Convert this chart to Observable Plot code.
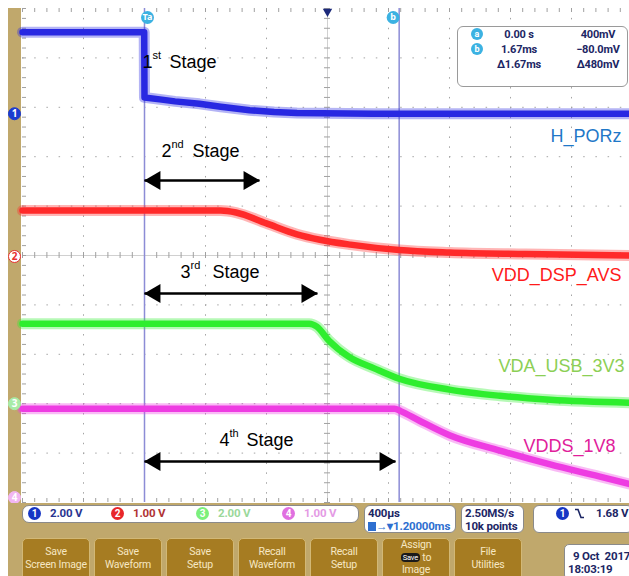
<!DOCTYPE html>
<html>
<head>
<meta charset="utf-8">
<script src="https://cdn.jsdelivr.net/npm/d3@7"></script>
<script src="https://cdn.jsdelivr.net/npm/@observablehq/plot@0.6"></script>
<style>
html,body{margin:0;padding:0;background:#fff;}
#scope{position:relative;width:629px;height:576px;overflow:hidden;background:#fff;font-family:Roboto,"Liberation Sans",sans-serif;}
#tan{position:absolute;left:8px;top:8px;right:0;bottom:0;background:#c0a86c;}
#screen{position:absolute;left:21px;top:8px;width:608px;height:495px;background:#fff;}
#scope svg{position:absolute;left:0;top:0;}
.box{position:absolute;background:#fff;border:1px solid #8a8a8a;border-radius:6px;box-sizing:border-box;}
.t{position:absolute;white-space:nowrap;font-weight:bold;font-size:11.5px;line-height:13px;letter-spacing:-0.2px;}
.circ{position:absolute;width:13px;height:13px;border-radius:50%;color:#fff;font-weight:bold;font-size:10px;line-height:13px;text-align:center;}
.btn{position:absolute;top:538px;width:68px;height:44px;background:#a67c22;border:1px solid #d2b876;border-radius:5px;box-sizing:border-box;color:#f6e7c2;font-size:10.5px;line-height:13px;text-align:center;padding-top:6px;white-space:nowrap;letter-spacing:-0.2px;}
.pill{display:inline-block;background:#1a1a1a;color:#fff;border-radius:4px;font-size:7.5px;line-height:9px;padding:0 2px;vertical-align:middle;}
</style>
</head>
<body>
<div id="scope">
  <div id="tan"></div>
  <div id="screen"></div>
</div>
<script>
// ---------- data ----------
const channels = ["H_PORz", "VDD_DSP_AVS", "VDA_USB_3V3", "VDDS_1V8"];
const voltsPerDiv = [2, 1, 2, 1];
const groundDiv = [2.87, -0.02, -3.0, -4.9];
const traceColors = ["#2828e2", "#ff2a2a", "#2eee2e", "#ee3ce2"];
const labelColors = ["#1f78c8", "#ff1a1a", "#8ccf55", "#e0209a"];

// time in ms, voltage in V
const hporzT = [-0.8, -0.002, 0, 0.1, 0.2, 0.36, 0.5, 0.69, 0.85, 1.0, 1.5, 3.2];
const hporzV = [3.3, 3.3, 0.66, 0.58, 0.5, 0.4, 0.28, 0.14, 0.07, 0.03, 0.0, 0.0];
const dspT = [-0.8, 0.5, 0.6, 0.8, 1.0, 1.15, 1.35, 1.67, 2.0, 2.5, 3.2];
const dspV = [0.93, 0.93, 0.89, 0.67, 0.45, 0.34, 0.24, 0.13, 0.08, 0.05, 0.02];
const usbT = [-0.8, 1.08, 1.13, 1.21, 1.34, 1.51, 1.67, 2.0, 2.33, 2.66, 3.2];
const usbV = [3.24, 3.24, 3.12, 2.55, 1.9, 1.42, 1.01, 0.57, 0.32, 0.16, 0.04];
const vddsT = [-0.8, 1.64, 1.68, 1.8, 2.0, 2.33, 2.66, 2.98, 3.2];
const vddsV = [1.8, 1.8, 1.75, 1.56, 1.26, 0.95, 0.67, 0.43, 0.26];

const timeGrid = [-0.8, -0.4, 0, 0.4, 0.8, 1.2, 1.6, 2.0, 2.4, 2.8, 3.2];
const divGrid = [-5, -4, -3, -2, -1, 0, 1, 2, 3, 4, 5];
const timeCenter = 1.2;

const cursorT = [0, 1.67];
const cursorNames = ["a", "b"];
const cursorMv = [400, -80];

const stageNums = ["1", "2", "3", "4"];
const stageSuffix = ["st", "nd", "rd", "th"];
const stageArrowStart = [0, 0, 0];
const stageArrowEnd = [0.754, 1.134, 1.646];

// ---------- layout ----------
const msPerPx = 0.4 / 61;
const divPerPx = 1 / 49.4;
const stageLabelT = [-0.013, 0.111, 0.236, 0.492];
const stageLabelDiv = [3.903, 2.101, -0.348, -3.749];
const stageWordPx = [27, 31, 32, 27];
const stageArrowDiv = [1.518, -0.769, -4.17];
const chLabelT = [3.128, 3.128, 3.148, 3.089];
const chLabelDiv = [2.405, -0.409, -2.251, -3.87];
const cursorTagPx = [3, -6];

const tracesT = [hporzT, dspT, usbT, vddsT];
const tracesV = [hporzV, dspV, usbV, vddsV];
const rows = tracesT.map((ts, c) => ts.map((t, i) => ({ch: channels[c], t, div: groundDiv[c] + tracesV[c][i] / voltsPerDiv[c]})));

const minorT = d3.range(0, 51).map(i => timeGrid[0] + i * 0.08);
const minorDiv = d3.range(0, 51).map(i => divGrid[0] + i * 0.2);
const grid = "#a4a4a4";

const marks = [];
// dotted grid
marks.push(Plot.ruleX(timeGrid.filter(t => t !== timeCenter && t !== timeGrid[0]), {x: d => d, stroke: grid, strokeDasharray: "1.5,8.38"}));
marks.push(Plot.ruleY(divGrid.filter(d => d !== 0 && Math.abs(d) !== 5), {y: d => d, stroke: grid, strokeDasharray: "1.5,10.7"}));
// center cross + ticks
marks.push(Plot.ruleY([0], {y: d => d, stroke: "#d0d0d0"}));
marks.push(Plot.ruleX([timeCenter], {x: d => d, stroke: "#d0d0d0"}));
marks.push(Plot.ruleX(minorT, {x: d => d, y1: -3 * divPerPx, y2: 3 * divPerPx, stroke: "#a0a0a0"}));
marks.push(Plot.ruleY(minorDiv, {y: d => d, x1: timeCenter - 3 * msPerPx, x2: timeCenter + 3 * msPerPx, stroke: "#a0a0a0"}));
// edge ticks
marks.push(Plot.ruleY(minorDiv, {y: d => d, x1: timeGrid[0], x2: timeGrid[0] + 4 * msPerPx, stroke: "#a0a0a0"}));
marks.push(Plot.ruleX(minorT, {x: d => d, y1: 5, y2: 5 - 4 * divPerPx, stroke: "#a0a0a0"}));
marks.push(Plot.ruleX(minorT, {x: d => d, y1: -5, y2: -5 + 4 * divPerPx, stroke: "#a0a0a0"}));

// cursors
marks.push(Plot.ruleX(cursorT, {x: d => d, stroke: "#8c8cd6", strokeWidth: 1.5}));

// traces (halo + core)
rows.forEach((r, c) => {
  const curve = c === 0 ? "linear" : "monotone-x";
  marks.push(Plot.line(r, {x: "t", y: "div", stroke: traceColors[c], strokeWidth: 11, strokeOpacity: 0.35, curve, strokeLinejoin: "round"}));
  marks.push(Plot.line(r, {x: "t", y: "div", stroke: traceColors[c], strokeWidth: 6.5, curve, strokeLinejoin: "round"}));
});

// cursor top markers
marks.push(Plot.dot(cursorT, {x: (d, i) => d + cursorTagPx[i] * msPerPx, y: 5, dy: 9, r: 6.5, fill: "#3cb2e2"}));
marks.push(Plot.text(cursorT, {x: (d, i) => d + cursorTagPx[i] * msPerPx, y: 5, dy: 9, text: (d, i) => i === 0 ? "Ta" : "b", fill: "#fff", fontSize: 9, fontWeight: "bold"}));
// trigger position marker
marks.push(Plot.dot([timeCenter], {x: d => d, y: 5, dy: 3, symbol: "triangle", rotate: 180, r: 3.5, fill: "#1c2a7a"}));

// channel ground markers
marks.push(Plot.dot(groundDiv, {x: timeGrid[0], y: d => d, dx: -8, r: 6, fill: (d, i) => ["#1a3ad0", "#ffffff", "#a8eca8", "#f2b6f2"][i], stroke: (d, i) => ["#1a3ad0", "#e83030", "#a8eca8", "#f2b6f2"][i], strokeWidth: 1}));
marks.push(Plot.text(groundDiv, {x: timeGrid[0], y: d => d, dx: -8, text: (d, i) => String(i + 1), fill: (d, i) => i === 1 ? "#e83030" : "#fff", fontSize: 10, fontWeight: "bold"}));

// stage arrows
marks.push(Plot.link(stageArrowDiv, {x1: (d, i) => stageArrowStart[i], x2: (d, i) => stageArrowEnd[i], y1: d => d, y2: d => d, stroke: "#000", strokeWidth: 2.5}));
marks.push(Plot.dot(stageArrowDiv, {x: (d, i) => stageArrowEnd[i], y: d => d, dx: -10.5, symbol: "triangle", rotate: 90, r: 7, fill: "#000"}));
marks.push(Plot.dot(stageArrowDiv, {x: (d, i) => stageArrowStart[i], y: d => d, dx: 10.5, symbol: "triangle", rotate: -90, r: 7, fill: "#000"}));

// stage labels
const ff = "Liberation Sans, Arial, sans-serif";
marks.push(Plot.text(stageNums, {x: (d, i) => stageLabelT[i], y: (d, i) => stageLabelDiv[i], text: d => d, textAnchor: "start", fontSize: 18, fontFamily: ff, fill: "#000"}));
marks.push(Plot.text(stageSuffix, {x: (d, i) => stageLabelT[i], y: (d, i) => stageLabelDiv[i], text: d => d, dx: 10, dy: -7, textAnchor: "start", fontSize: 11, fontFamily: ff, fill: "#000"}));
marks.push(Plot.text(stageNums, {x: (d, i) => stageLabelT[i] + stageWordPx[i] * msPerPx, y: (d, i) => stageLabelDiv[i], text: () => "Stage", textAnchor: "start", fontSize: 18, fontFamily: ff, fill: "#000"}));

// channel names
marks.push(Plot.text(channels, {x: (d, i) => chLabelT[i], y: (d, i) => chLabelDiv[i], text: d => d, textAnchor: "end", fontSize: 18, fontFamily: ff, fill: (d, i) => labelColors[i]}));

const svg = Plot.plot({
  width: 629, height: 503,
  marginTop: 8, marginBottom: 1, marginLeft: 22, marginRight: 0,
  x: {domain: [timeGrid[0], timeGrid[timeGrid.length - 1]], range: [22, 632], axis: null},
  y: {domain: [divGrid[0], divGrid[divGrid.length - 1]], range: [502, 8], axis: null},
  style: {background: "transparent", overflow: "hidden"},
  marks
});
const scope = document.getElementById("scope");
scope.appendChild(svg);

// ---------- HTML overlays (scope UI) ----------
function el(cls, style, html, parent) {
  const e = document.createElement("div");
  e.className = cls;
  Object.assign(e.style, style);
  e.innerHTML = html;
  (parent || scope).appendChild(e);
  return e;
}
// cursor readout box
const rb = el("box", {left: "457px", top: "26px", width: "171px", height: "61px", borderColor: "#9a9a9a"}, "");
const navy = "#1c2664";
const fmtMs = t => t === 0 ? "0.00 s" : d3.format(".2f")(t) + "ms";
const fmtMv = v => (v < 0 ? "\u2212" : "") + (Math.abs(v) >= 100 ? d3.format(".0f")(Math.abs(v)) : d3.format(".1f")(Math.abs(v))) + "mV";
cursorT.forEach((t, i) => {
  el("circ", {left: "13px", top: (i * 15 + 1) + "px", width: "12px", height: "12px", lineHeight: "12px", background: "#3cb2e2", fontSize: "9px"}, cursorNames[i], rb);
  el("t", {left: "30px", width: "62px", textAlign: "center", top: (i * 15 + 1) + "px", color: navy, fontSize: "11px"}, fmtMs(t), rb);
  el("t", {left: "100px", width: "80px", textAlign: "center", top: (i * 15 + 1) + "px", color: navy, fontSize: "11px"}, fmtMv(cursorMv[i]), rb);
});
el("t", {left: "30px", width: "62px", textAlign: "center", top: "31px", color: navy, fontSize: "11px"}, "\u0394" + d3.format(".2f")(cursorT[1] - cursorT[0]) + "ms", rb);
el("t", {left: "100px", width: "80px", textAlign: "center", top: "31px", color: navy, fontSize: "11px"}, "\u0394" + d3.format(".0f")(cursorMv[0] - cursorMv[1]) + "mV", rb);

// channel scale readout
const vb = el("box", {left: "22px", top: "505px", width: "337px", height: "18px", borderRadius: "7px"}, "");
const circCols = ["#1636c4", "#e8262a", "#7cf07c", "#e070e0"];
const txtCols = ["#2a3590", "#b03434", "#9ad89a", "#e49ae4"];
const circX = [5, 88, 173, 259];
voltsPerDiv.forEach((v, i) => {
  el("circ", {left: circX[i] + "px", top: "1px", background: circCols[i]}, String(i + 1), vb);
  el("t", {left: (circX[i] + 22) + "px", top: "1px", color: txtCols[i]}, d3.format(".2f")(v) + " V", vb);
});
// timebase
const tb = el("box", {left: "364px", top: "505px", width: "92px", height: "28px"}, "");
el("t", {left: "3px", top: "1px", color: navy}, "400\u00b5s", tb);
el("t", {left: "3px", top: "14px", color: "#2e6fd0"}, "<span style='display:inline-block;width:8px;height:9px;background:#2e6fd0;vertical-align:-1px'></span>\u2192\u25be1.20000ms", tb);
const sb = el("box", {left: "461px", top: "505px", width: "63px", height: "28px"}, "");
el("t", {left: "3px", top: "1px", color: navy}, "2.50MS/s", sb);
el("t", {left: "3px", top: "14px", color: navy}, "10k points", sb);
const trb = el("box", {left: "533px", top: "505px", width: "100px", height: "28px"}, "");
el("circ", {left: "22px", top: "1px", background: "#1636c4"}, "1", trb);
el("t", {left: "41px", top: "2px", color: navy}, "<svg width='9' height='11' style='position:static'><path d='M0,1.5H3L6,9.5H9' fill='none' stroke='#1c2664' stroke-width='1.6'/></svg>", trb);
el("t", {left: "62px", top: "1px", color: navy}, "1.68 V", trb);

// buttons
const buttons = ["Save<br>Screen Image", "Save<br>Waveform", "Save<br>Setup", "Recall<br>Waveform", "Recall<br>Setup", "Assign<br><span class='pill'>Save</span> to<br>Image", "File<br>Utilities"];
buttons.forEach((b, i) => {
  const e = el("btn", {left: (22 + i * 72) + "px"}, b);
  if (i === 5) { e.style.paddingTop = "0px"; e.style.lineHeight = "12.5px"; }
});
// date
const db = el("box", {left: "564px", top: "544px", width: "70px", height: "36px", borderRadius: "5px"}, "");
el("t", {left: "8px", top: "5px", color: navy}, "9 Oct&nbsp;&nbsp;2017", db);
el("t", {left: "3px", top: "18px", color: navy}, "18:03:19", db);
</script>
</body>
</html>
